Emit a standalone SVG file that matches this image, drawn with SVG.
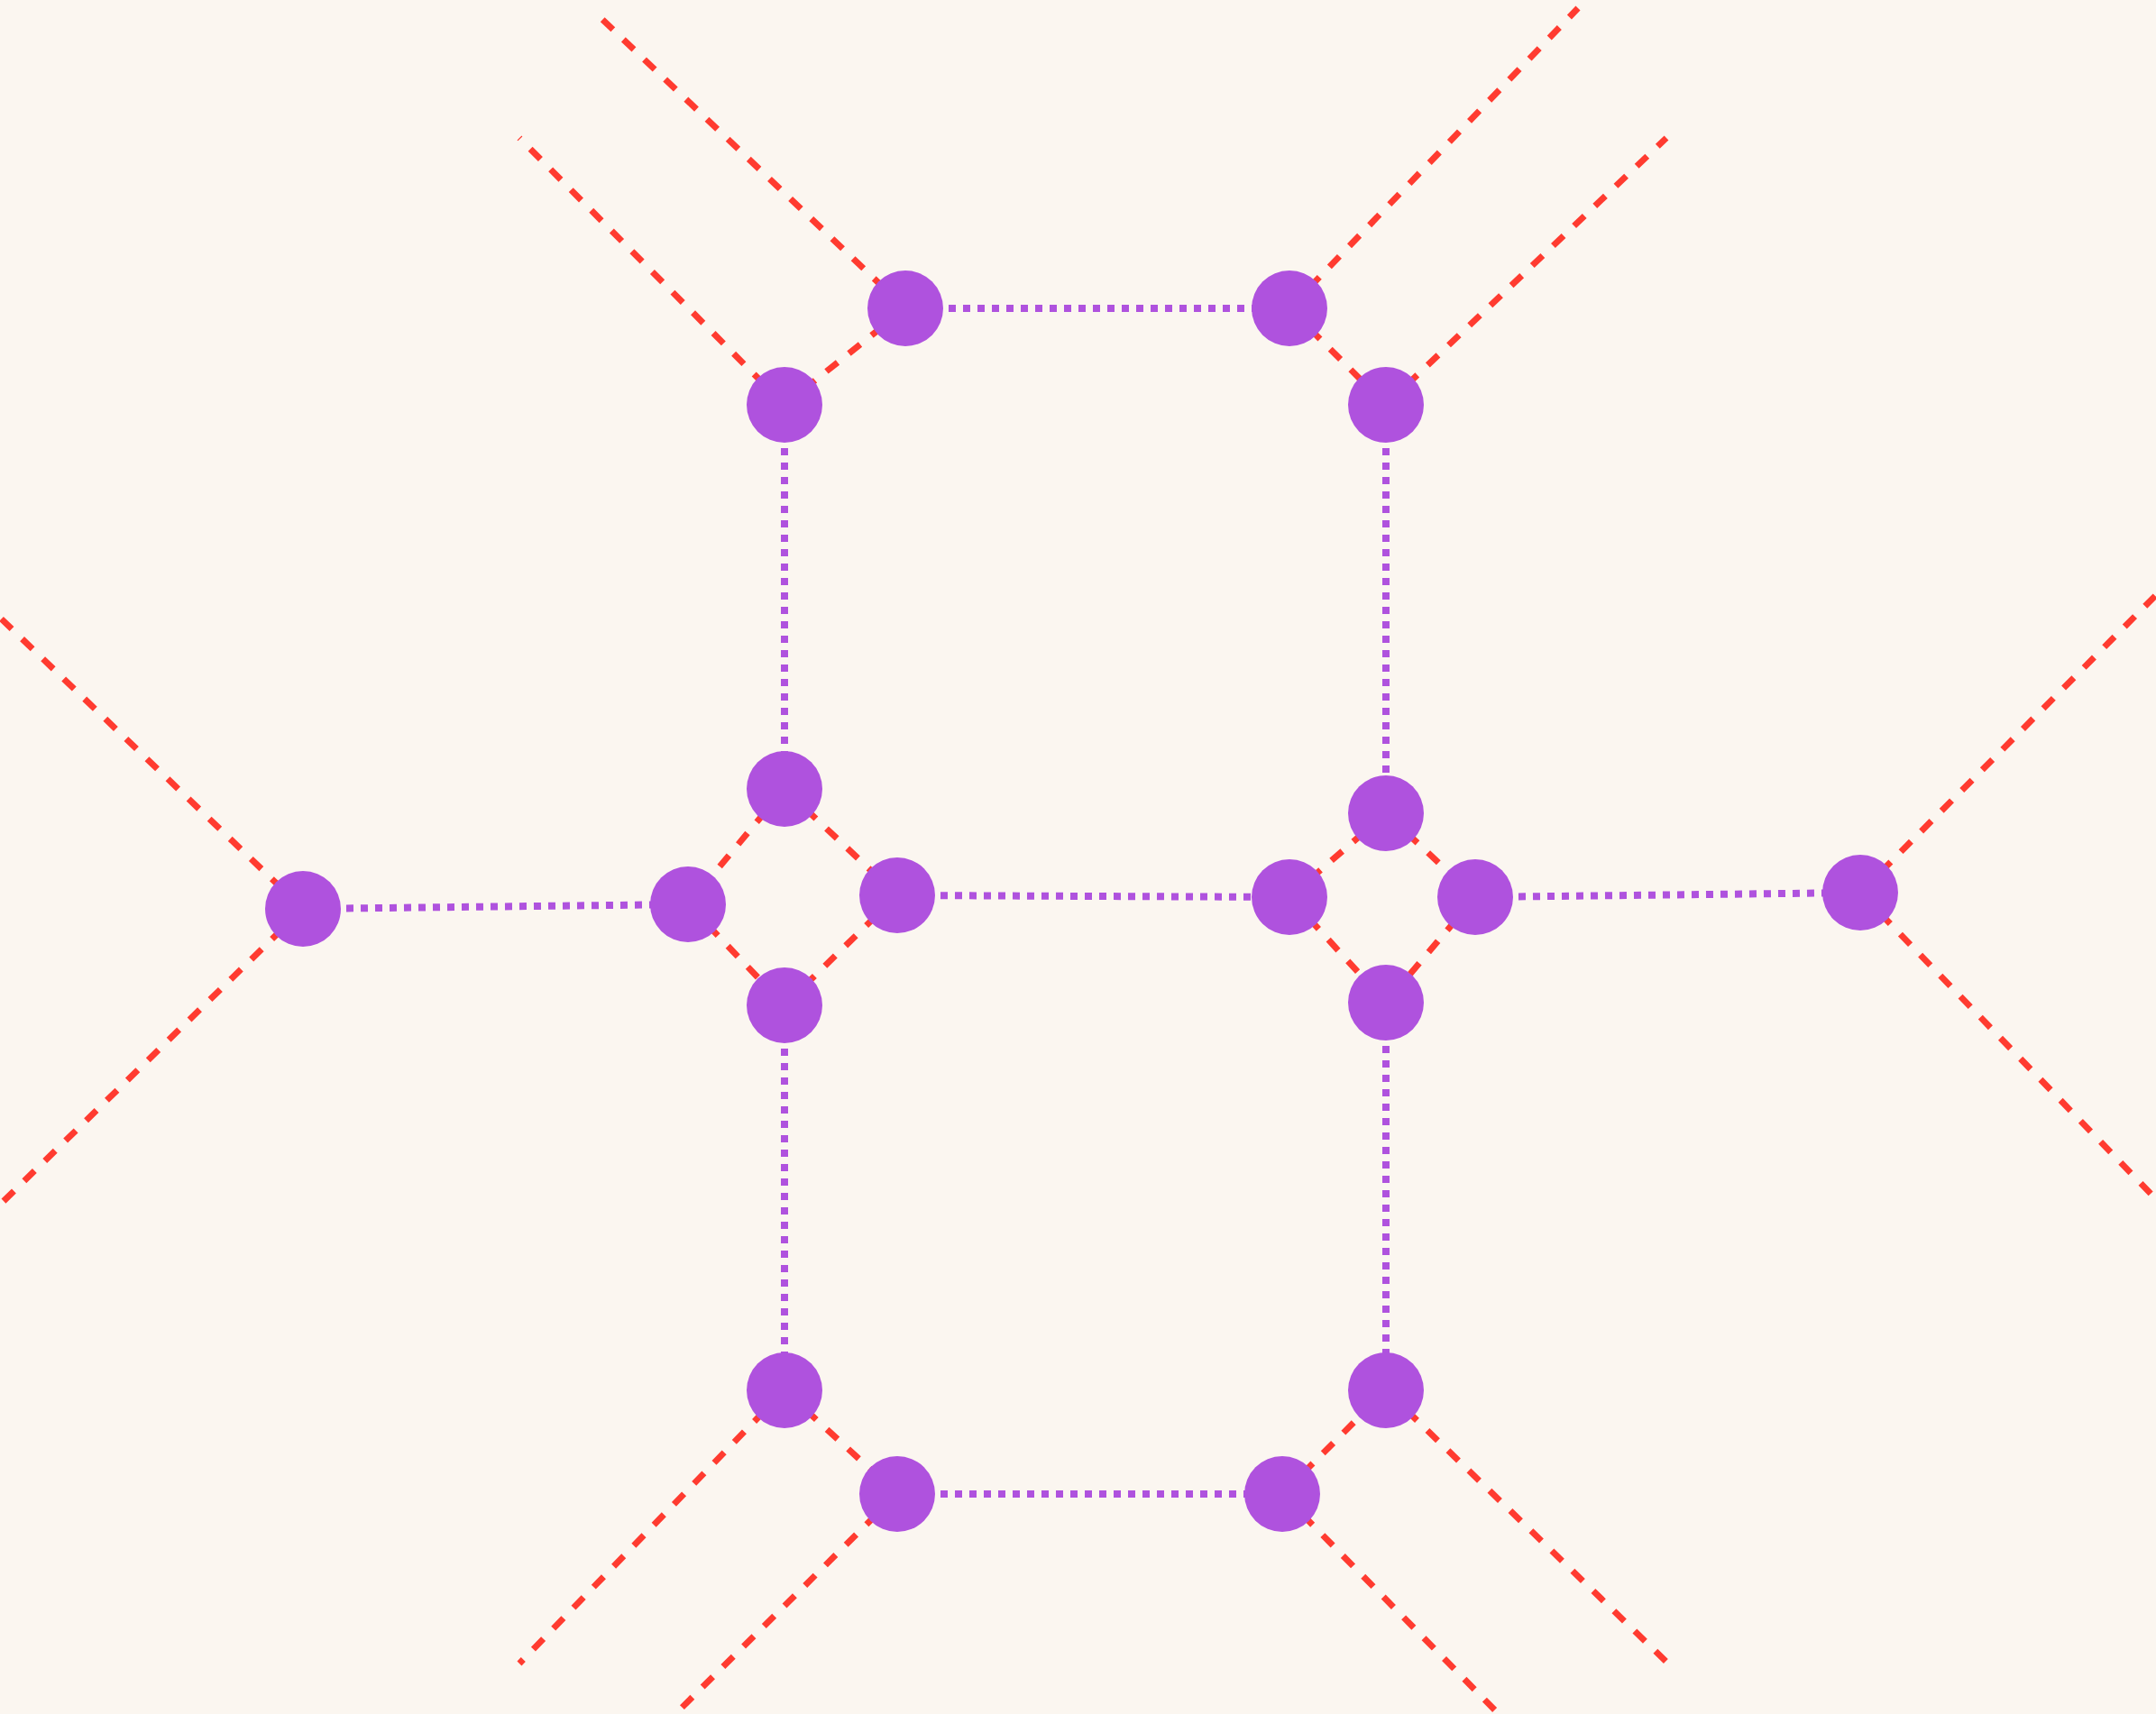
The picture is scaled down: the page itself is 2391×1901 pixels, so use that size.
<svg xmlns="http://www.w3.org/2000/svg" width="2391" height="1901" viewBox="0 0 2391 1901">
<style>
.bg{fill:#fbf6f0}
.r{stroke:#ff3b30;stroke-width:7;stroke-dasharray:16 16;fill:none}
.p{stroke:#af52de;stroke-width:8;stroke-dasharray:8 8;fill:none}
.n{fill:#af52de}
</style>
<rect class="bg" x="0" y="0" width="2391" height="1901"/>
<g id="connectors">
<line class="r" x1="1004" y1="342" x2="658" y2="12"/>
<line class="r" x1="1430" y1="342" x2="1750" y2="9"/>
<line class="r" x1="870" y1="449" x2="576" y2="153"/>
<line class="r" x1="1537" y1="449" x2="1848" y2="153"/>
<line class="r" x1="336" y1="1008" x2="0" y2="685"/>
<line class="r" x1="336" y1="1008" x2="0" y2="1336"/>
<line class="r" x1="2063" y1="990" x2="2391" y2="660"/>
<line class="r" x1="2063" y1="990" x2="2391" y2="1330"/>
<line class="r" x1="870" y1="1542" x2="576" y2="1845"/>
<line class="r" x1="995" y1="1657" x2="749" y2="1901"/>
<line class="r" x1="1422" y1="1657" x2="1662" y2="1901"/>
<line class="r" x1="1537" y1="1542" x2="1850" y2="1845"/>
<line class="r" x1="1004" y1="342" x2="870" y2="449"/>
<line class="r" x1="1430" y1="342" x2="1537" y2="449"/>
<line class="r" x1="870" y1="875" x2="763" y2="1003"/>
<line class="r" x1="870" y1="875" x2="995" y2="993"/>
<line class="r" x1="763" y1="1003" x2="870" y2="1115"/>
<line class="r" x1="995" y1="993" x2="870" y2="1115"/>
<line class="r" x1="1537" y1="902" x2="1430" y2="995"/>
<line class="r" x1="1537" y1="902" x2="1636" y2="995"/>
<line class="r" x1="1430" y1="995" x2="1537" y2="1112"/>
<line class="r" x1="1636" y1="995" x2="1537" y2="1112"/>
<line class="r" x1="870" y1="1542" x2="995" y2="1657"/>
<line class="r" x1="1422" y1="1657" x2="1537" y2="1542"/>
<line class="p" x1="1004" y1="342" x2="1430" y2="342"/>
<line class="p" x1="870" y1="449" x2="870" y2="875"/>
<line class="p" x1="1537" y1="449" x2="1537" y2="902"/>
<line class="p" x1="870" y1="1115" x2="870" y2="1542"/>
<line class="p" x1="1537" y1="1112" x2="1537" y2="1542"/>
<line class="p" x1="336" y1="1008" x2="763" y2="1003"/>
<line class="p" x1="995" y1="993" x2="1430" y2="995"/>
<line class="p" x1="1636" y1="995" x2="2063" y2="990"/>
<line class="p" x1="995" y1="1657" x2="1422" y2="1657"/>
</g>
<g id="n1"><circle class="n" cx="1004" cy="342" r="42"/></g>
<g id="n2"><circle class="n" cx="1430" cy="342" r="42"/></g>
<g id="n3"><circle class="n" cx="870" cy="449" r="42"/></g>
<g id="n4"><circle class="n" cx="1537" cy="449" r="42"/></g>
<g id="n5"><circle class="n" cx="870" cy="875" r="42"/></g>
<g id="n6"><circle class="n" cx="763" cy="1003" r="42"/></g>
<g id="n7"><circle class="n" cx="995" cy="993" r="42"/></g>
<g id="n8"><circle class="n" cx="870" cy="1115" r="42"/></g>
<g id="n9"><circle class="n" cx="336" cy="1008" r="42"/></g>
<g id="n10"><circle class="n" cx="1430" cy="995" r="42"/></g>
<g id="n11"><circle class="n" cx="1537" cy="902" r="42"/></g>
<g id="n12"><circle class="n" cx="1636" cy="995" r="42"/></g>
<g id="n13"><circle class="n" cx="1537" cy="1112" r="42"/></g>
<g id="n14"><circle class="n" cx="2063" cy="990" r="42"/></g>
<g id="n15"><circle class="n" cx="870" cy="1542" r="42"/></g>
<g id="n16"><circle class="n" cx="995" cy="1657" r="42"/></g>
<g id="n17"><circle class="n" cx="1422" cy="1657" r="42"/></g>
<g id="n18"><circle class="n" cx="1537" cy="1542" r="42"/></g>
</svg>
